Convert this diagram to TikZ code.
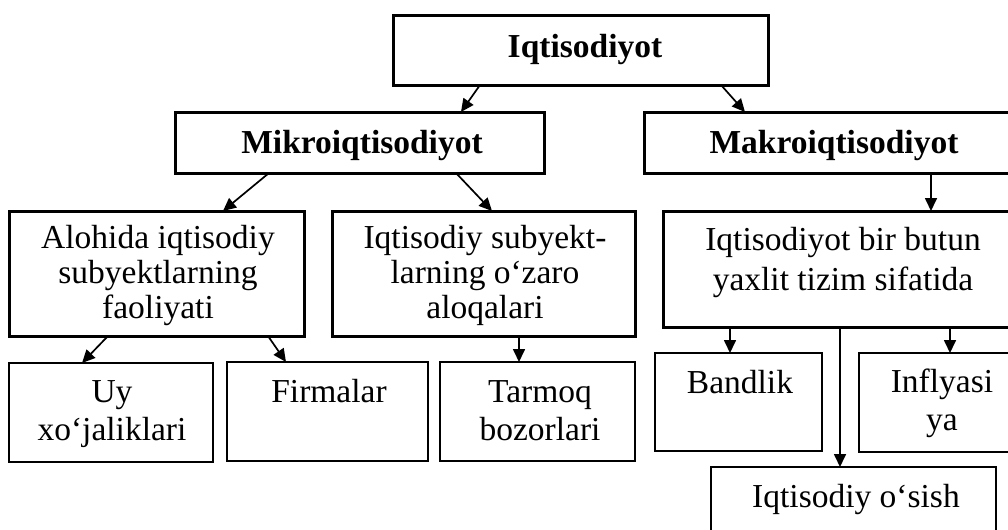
\documentclass[tikz,border=0pt]{standalone}
\usepackage{fontspec}
\setmainfont{Liberation Serif}
\usetikzlibrary{arrows.meta}
\tikzset{
  boxthick/.style={draw, line width=1.5pt, inner sep=0pt, outer sep=0pt},
  boxthin/.style={draw, line width=1.2pt, inner sep=0pt, outer sep=0pt},
  bw/.style={minimum width=#1*0.5pt},
  bh/.style={minimum height=#1*0.5pt},
  txt/.style={inner sep=0pt, outer sep=0pt, align=center, font=\fontsize{16.75}{17.5}\selectfont},
  txtb/.style={txt, font=\fontsize{16.75}{17.5}\selectfont\bfseries},
  txtw/.style={txt, font=\fontsize{16.75}{19}\selectfont},
  txtbig/.style={txt, font=\fontsize{16.75}{20}\selectfont},
  arr/.style={-{Triangle[length=6.5pt,width=6pt]}, line width=0.85pt},
}
\begin{document}
\begin{tikzpicture}[x=0.5pt,y=-0.5pt]
\clip (0,0) rectangle (1008,530);
% boxes
\node[boxthick, bw=375, bh=70] (top) at (580.5,50) {};
\node[boxthick, bw=369, bh=61] (mikro) at (359.5,142.5) {};
\node[boxthick, bw=380, bh=61] (makro) at (834,142.5) {};
\node[boxthick, bw=295, bh=125] (alohida) at (156.5,273.5) {};
\node[boxthick, bw=303, bh=125] (subyekt) at (483.5,273.5) {};
\node[boxthick, bw=361, bh=116] (big) at (843.5,269) {};
\node[boxthin, bw=204, bh=99] (uy) at (111,412.5) {};
\node[boxthin, bw=201, bh=99] (firma) at (327.5,411.5) {};
\node[boxthin, bw=195, bh=99] (tarmoq) at (537.5,411.5) {};
\node[boxthin, bw=167, bh=98] (bandlik) at (738.5,402) {};
\node[boxthin, bw=165, bh=99] (inflyasi) at (941.5,402.5) {};
\node[boxthin, bw=285, bh=83] (osish) at (853.5,508.5) {};
% texts
\node[txtb] (topT) at (585,50) {\strut Iqtisodiyot};
\node[txtb] (mikroT) at (362,146.5) {\strut Mikroiqtisodiyot};
\node[txtb] (makroT) at (834,146) {\strut Makroiqtisodiyot};
\node[txt] (alohidaT) at (158,276) {\strut Alohida iqtisodiy\\subyektlarning\\faoliyati\strut};
\node[txt] (subyektT) at (485,276) {\strut Iqtisodiy subyekt-\\larning o‘zaro\\aloqalari\strut};
\node[txtbig] (bigT) at (843,262) {\strut Iqtisodiyot bir butun\\yaxlit tizim sifatida\strut};
\node[txtw] (uyT) at (112,413.4) {\strut Uy\\xo‘jaliklari\strut};
\node[txt] (firmaT) at (329,395) {\strut Firmalar};
\node[txtw] (tarmoqT) at (540,413.4) {\strut Tarmoq\\bozorlari\strut};
\node[txt] (bandlikT) at (740,386) {\strut Bandlik};
\node[txtw] (inflyasiT) at (942,404) {\strut Inflyasi\\ya\strut};
\node[txt] (osishT) at (856,500) {\strut Iqtisodiy o‘sish};
% connectors
\draw[arr] (top.south -| 480,0) -- (mikro.north -| 461,0);
\draw[arr] (top.south -| 721,0) -- (makro.north -| 745,0);
\draw[arr] (mikro.south -| 269,0) -- (alohida.north -| 223,0);
\draw[arr] (mikro.south -| 456,0) -- (subyekt.north -| 492,0);
\draw[arr] (makro.south -| 931,0) -- (big.north -| 931,0);
\draw[arr] (alohida.south -| 108,0) -- (uy.north -| 82,0);
\draw[arr] (alohida.south -| 268,0) -- (firma.north -| 286,0);
\draw[arr] (subyekt.south -| 519,0) -- (tarmoq.north -| 519,0);
\draw[arr] (big.south -| 730,0) -- (bandlik.north -| 730,0);
\draw[arr] (big.south -| 840,0) -- (osish.north -| 840,0);
\draw[arr] (big.south -| 950,0) -- (inflyasi.north -| 950,0);
\end{tikzpicture}
\end{document}
